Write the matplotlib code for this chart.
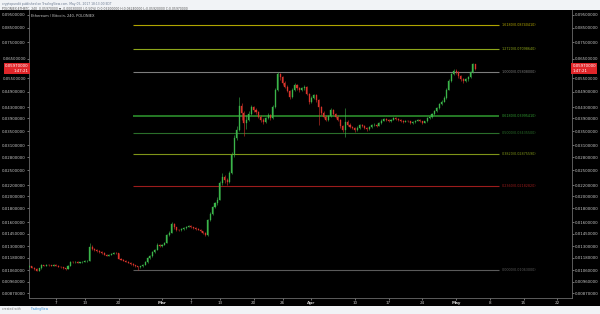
import numpy as np
import pandas as pd
import matplotlib
matplotlib.use('Agg')
import matplotlib.pyplot as plt
import matplotlib.dates as mdates

# ETH/BTC 12h candles (values in mBTC), Feb 1 2017 12:00 -> May 5 2017 00:00
first_open = 10.85
close_mbtc = [
    10.95,
    10.80, 10.70, 10.55, 10.75, 11.05, 11.00, 11.10, 11.05, 11.00, 11.10,
    11.00, 10.90, 10.85, 10.75, 10.70, 11.00, 11.40, 11.35, 11.40, 11.30,
    11.35, 11.40, 11.45, 11.50, 12.90, 12.75, 12.60, 12.50, 12.40, 12.30,
    12.10, 12.00, 12.10, 12.20, 12.30, 12.25, 11.70, 11.60, 11.50, 11.40,
    11.30, 11.20, 11.05, 10.95, 10.85, 10.95, 11.10, 11.35, 11.80, 11.95,
    12.40, 12.60, 13.20, 13.05,
    # March
    13.20, 13.40, 14.30, 14.60, 15.70, 15.30, 15.00, 14.95, 15.10, 15.20,
    15.40, 15.50, 15.30, 15.20, 15.10, 15.00, 14.80, 14.60, 14.30, 16.30,
    17.20, 18.20, 18.80, 19.40, 22.40, 23.50, 23.00, 22.60, 24.40, 28.50,
    33.00, 35.30, 43.50, 40.80, 37.50, 38.50, 40.50, 43.00, 42.00, 41.20,
    39.50, 38.50, 37.80, 39.00, 40.20, 39.10, 43.00, 49.80, 57.00, 55.60,
    52.90, 51.10, 49.50, 46.90, 50.00, 52.00, 50.50, 49.80, 50.50, 51.10,
    48.00, 44.90,
    # April
    46.50, 47.70, 45.50, 43.00, 41.00, 39.50, 38.50, 39.80, 41.90, 40.50,
    39.50, 38.50, 36.50, 35.30, 37.80, 37.00, 36.20, 36.00, 35.30, 36.00,
    36.90, 36.50, 36.00, 35.60, 36.20, 36.80, 37.00, 36.60, 37.50, 38.30,
    38.80, 38.40, 38.00, 38.60, 39.20, 38.80, 38.50, 38.20, 37.90, 38.30,
    38.00, 37.60, 37.80, 38.20, 38.60, 38.10, 37.60, 38.00, 39.00, 39.50,
    40.50, 41.50, 42.50, 44.00, 45.00, 46.50, 50.00, 54.00, 57.00, 58.50,
    # May
    58.00, 56.00, 54.50, 53.80, 54.50, 55.60, 58.00, 62.00, 59.70,
]
high_mbtc = [
    11.05,
    11.00, 10.85, 10.75, 10.80, 11.15, 11.12, 11.18, 11.15, 11.10, 11.16,
    11.14, 11.04, 10.95, 10.90, 10.80, 11.05, 11.50, 11.48, 11.46, 11.44,
    11.40, 11.46, 11.52, 11.60, 13.40, 13.10, 12.85, 12.70, 12.58, 12.48,
    12.36, 12.18, 12.16, 12.28, 12.40, 12.38, 12.30, 11.78, 11.66, 11.56,
    11.46, 11.36, 11.26, 11.10, 11.00, 11.02, 11.18, 11.42, 11.90, 12.05,
    12.50, 12.75, 13.35, 13.30,
    # March
    13.30, 13.55, 14.45, 14.80, 16.05, 15.85, 15.40, 15.15, 15.22, 15.32,
    15.52, 15.65, 15.58, 15.40, 15.30, 15.20, 15.08, 14.88, 14.70, 16.50,
    17.45, 18.40, 19.05, 19.80, 22.80, 24.40, 23.90, 23.30, 24.80, 29.20,
    33.80, 36.50, 46.90, 44.50, 41.50, 40.00, 41.50, 43.80, 43.50, 42.60,
    41.60, 40.00, 39.00, 39.60, 40.80, 40.60, 43.60, 50.50, 58.08, 57.60,
    56.00, 53.60, 51.80, 50.00, 50.80, 52.80, 52.50, 51.20, 51.20, 51.90,
    51.60, 48.40,
    # April
    47.20, 48.30, 48.00, 46.00, 43.40, 41.50, 40.00, 40.30, 42.50, 42.30,
    41.00, 40.00, 38.80, 36.90, 42.50, 38.40, 37.40, 36.60, 36.30, 36.40,
    37.30, 37.20, 36.80, 36.30, 36.60, 37.20, 37.40, 37.30, 37.90, 38.70,
    39.20, 39.10, 38.70, 38.90, 39.60, 39.50, 39.00, 38.70, 38.40, 38.60,
    38.50, 38.20, 38.10, 38.50, 38.90, 38.80, 38.30, 38.30, 39.40, 39.90,
    41.00, 42.00, 43.00, 44.60, 45.60, 47.20, 50.80, 54.80, 57.80, 59.60,
    # May
    59.80, 58.40, 56.40, 55.00, 55.20, 56.20, 58.80, 62.80, 62.40,
]
low_mbtc = [
    10.80,
    10.75, 10.62, 10.48, 10.50, 10.70, 10.95, 10.96, 11.00, 10.94, 10.97,
    10.95, 10.85, 10.80, 10.70, 10.62, 10.66, 10.98, 11.28, 11.30, 11.25,
    11.24, 11.30, 11.35, 11.40, 11.48, 12.60, 12.50, 12.40, 12.32, 12.22,
    12.04, 11.92, 11.95, 12.05, 12.14, 12.15, 11.62, 11.52, 11.42, 11.34,
    11.22, 11.12, 10.98, 10.86, 10.63, 10.78, 10.90, 11.05, 11.30, 11.70,
    11.90, 12.30, 12.55, 12.90,
    # March
    12.95, 13.10, 13.35, 14.15, 14.55, 15.10, 14.85, 14.80, 14.88, 15.02,
    15.12, 15.30, 15.20, 15.10, 15.00, 14.90, 14.70, 14.48, 14.15, 14.25,
    16.10, 17.00, 18.00, 18.60, 19.30, 22.00, 22.40, 22.10, 22.40, 24.20,
    28.00, 32.50, 35.00, 38.50, 33.50, 35.50, 38.00, 40.20, 41.20, 40.50,
    39.00, 37.80, 37.20, 37.50, 38.70, 38.60, 38.90, 42.60, 49.50, 54.20,
    52.00, 50.50, 48.80, 46.00, 46.50, 49.50, 49.80, 49.00, 49.20, 50.00,
    47.50, 44.20,
    # April
    44.50, 46.00, 45.00, 36.80, 40.20, 39.00, 38.00, 38.20, 39.50, 40.00,
    39.00, 38.00, 36.00, 34.60, 33.20, 36.50, 35.80, 35.50, 34.80, 35.00,
    35.70, 36.10, 35.60, 35.10, 35.30, 36.00, 36.50, 36.20, 36.40, 37.30,
    38.10, 38.10, 37.70, 37.80, 38.40, 38.50, 38.20, 37.90, 37.60, 37.70,
    37.70, 37.30, 37.30, 37.60, 38.00, 37.80, 37.20, 37.40, 37.80, 38.70,
    39.20, 40.20, 41.30, 42.20, 43.60, 44.80, 46.20, 49.60, 53.50, 56.50,
    # May
    57.00, 55.20, 53.80, 53.00, 53.40, 54.00, 55.20, 57.60, 59.20,
]

ytick_vals = [0.0087, 0.0096, 0.0106, 0.0118, 0.013, 0.0145, 0.016, 0.018,
              0.020, 0.022, 0.025, 0.028, 0.031, 0.035, 0.039, 0.043, 0.049,
              0.055, 0.065, 0.075, 0.085, 0.095]
xtick_dates = ['2017-02-07', '2017-02-13', '2017-02-20', '2017-03-01',
               '2017-03-07', '2017-03-13', '2017-03-20', '2017-03-26',
               '2017-04-01', '2017-04-10', '2017-04-17', '2017-04-24',
               '2017-05-01', '2017-05-08', '2017-05-15', '2017-05-22']
xtick_labels = ['7', '13', '20', 'Mar', '7', '13', '20', '26', 'Apr',
                '10', '17', '24', 'May', '8', '15', '22']

fib_ratios = [0, 0.236, 0.382, 0.5, 0.618, 1, 1.272, 1.618]
fib_colors = ['#5a5a5a', '#9b1c1c', '#7f9418', '#2a6e2a', '#2f9a2f',
              '#7d7d7d', '#8ea61a', '#b0a400']
fib_low = 0.01063
fib_high = 0.05808

GREEN = '#3bb54a'
RED = '#d9342b'
TXT = '#c8c8c8'

c = np.array(close_mbtc) / 1000
h = np.array(high_mbtc) / 1000
l = np.array(low_mbtc) / 1000
o = np.r_[first_open / 1000, c[:-1]]
dates = pd.date_range('2017-02-01 12:00', periods=len(c), freq='12h')
x = mdates.date2num(dates)

fig = plt.figure(figsize=(6, 3.14), dpi=100, facecolor='#f1f3f6')
# black chart panel behind everything
bg = fig.add_axes([0, 8 / 314, 1, 296 / 314], zorder=-1)
bg.set_facecolor('black')
bg.set_xticks([])
bg.set_yticks([])
for s in bg.spines.values():
    s.set_visible(False)

ax = fig.add_axes([29 / 600, 16 / 314, 543 / 600, 288 / 314])
ax.set_facecolor('black')
ax.set_yscale('log')
ax.set_ylim(0.00834, 0.0990)
ax.set_xlim(mdates.date2num(pd.Timestamp('2017-02-01 10:00')),
            mdates.date2num(pd.Timestamp('2017-05-25 01:00')))

# fibonacci retracement
x0 = mdates.date2num(pd.Timestamp('2017-02-23'))
x1 = mdates.date2num(pd.Timestamp('2017-05-10'))
for r, col in zip(fib_ratios, fib_colors):
    v = fib_low + r * (fib_high - fib_low)
    lw = 1.1 if r == 0.618 else 0.8
    ax.hlines(v, x0, x1, colors=col, linewidth=lw, zorder=1)
    ax.text(x1 + 0.4, v, f'{r:.4f}({v:.8f})', color=col, fontsize=2.4,
            va='center', ha='left')

# candles
up = c >= o
cols = np.where(up, GREEN, RED)
ax.vlines(x, l, h, colors=cols, linewidth=0.4, zorder=2)
ax.bar(x, np.abs(c - o), bottom=np.minimum(o, c), width=0.22, color=cols,
       edgecolor=cols, linewidth=0.25, zorder=3)

# axes styling
for s in ['left', 'right', 'bottom']:
    ax.spines[s].set_color('#6a6a6a')
    ax.spines[s].set_linewidth(0.6)
ax.spines['top'].set_visible(False)
ax.yaxis.set_minor_locator(matplotlib.ticker.NullLocator())
ax.set_yticks(ytick_vals)
ax.set_yticklabels([f'{v:.8f}' for v in ytick_vals])
ax.tick_params(axis='y', which='both', left=True, right=True, labelleft=True,
               labelright=True, labelsize=2.8, colors=TXT, length=1.5,
               width=0.4, pad=0.8)
ax.set_xticks(mdates.date2num(pd.to_datetime(xtick_dates)))
ax.set_xticklabels(xtick_labels)
ax.tick_params(axis='x', labelsize=3, colors=TXT, length=1.5, width=0.4, pad=1)
for lab in ax.get_xticklabels():
    if lab.get_text() in ('Mar', 'Apr', 'May'):
        lab.set_fontweight('bold')

ax.text(0.004, 0.985, 'Ethereum / Bitcoin, 240, POLONIEX', transform=ax.transAxes,
        color=TXT, fontsize=2.6, va='top', ha='left')

# last price labels on both scales
last = c[-1]
for xa, ha in [(-0.0005, 'right'), (1.0005, 'left')]:
    ax.text(xa, last, f'{last:.8f}\n1:47:21', transform=ax.get_yaxis_transform(),
            color='white', fontsize=2.8, ha=ha, va='center', linespacing=1.3,
            bbox=dict(boxstyle='square,pad=0.3', facecolor='#e0262a',
                      edgecolor='none'), zorder=5, clip_on=False)

# header and footer
fig.text(0.004, 0.995, 'cryptopundit published on TradingView.com, May 05, 2017 18:13:00 EDT',
         color='#6b7a90', fontsize=2.2, va='top')
fig.text(0.004, 0.978, 'POLONIEX:ETHBTC, 240  0.05970000 \u25bc -0.00030000 (-0.50%) '
         'O:0.06200000 H:0.06240000 L:0.05920000 C:0.05970000',
         color='#555555', fontsize=2.2, va='top')
fig.text(0.004, 0.008, 'created with', color='#7a7a7a', fontsize=2.2, va='bottom')
fig.text(0.05, 0.008, 'TradingView', color='#3a8fd8', fontsize=2.2, va='bottom')

fig.savefig('out.png', dpi=100, facecolor=fig.get_facecolor())
